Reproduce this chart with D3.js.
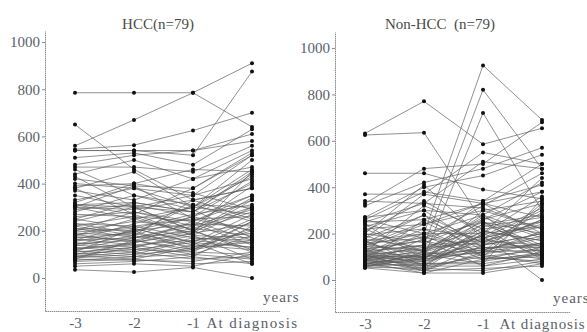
<!DOCTYPE html>
<html>
<head>
<meta charset="utf-8">
<script src="https://cdn.jsdelivr.net/npm/d3@7"></script>
<style>
  body { margin: 0; background: #fff; }
  svg { display: block; }
  text { font-family: "Liberation Serif", serif; white-space: pre; }
</style>
</head>
<body>
<div id="chart"></div>
<script>
// Time points (years before diagnosis) and their labels
const timePoints = [-3, -2, -1, 0];
const timeLabels = ["-3", "-2", "-1", "At diagnosis"];
const yTicks = [0, 200, 400, 600, 800, 1000];

// HCC group, one value per subject at each time point
const hccM3 = [785, 560, 545, 540, 650, 540, 510, 480, 470, 440, 420, 400, 390, 380, 370, 350, 330, 310, 310, 300,
  300, 290, 280, 270, 260, 250, 240, 230, 230, 220, 210, 210, 200, 195, 190, 185, 180, 175, 170, 165,
  160, 155, 150, 145, 140, 135, 130, 125, 120, 115, 110, 105, 100, 95, 90, 85, 80, 75, 70, 60,
  50, 35, 320, 310, 300, 250, 220, 200, 180, 160, 140, 120, 110, 100, 90, 80, 460, 430, 380];
const hccM2 = [785, 670, 563, 540, 460, 540, 530, 520, 470, 500, 390, 380, 400, 450, 330, 300, 380, 300, 320, 290,
  250, 310, 350, 260, 280, 210, 300, 220, 190, 260, 200, 170, 240, 210, 180, 150, 220, 160, 190, 140,
  170, 200, 130, 160, 120, 180, 110, 140, 150, 100, 130, 90, 120, 80, 110, 100, 75, 90, 80, 70,
  60, 25, 400, 270, 390, 320, 180, 280, 250, 230, 200, 170, 210, 150, 130, 160, 350, 300, 270];
const hccM1 = [785, 785, 625, 520, 330, 540, 480, 540, 450, 420, 380, 350, 460, 300, 420, 280, 300, 350, 280, 330,
  300, 260, 310, 240, 220, 270, 200, 250, 310, 180, 230, 200, 210, 150, 260, 190, 170, 210, 140, 160,
  230, 120, 180, 110, 150, 130, 170, 100, 200, 120, 90, 140, 110, 130, 80, 160, 70, 100, 60, 90,
  50, 45, 360, 380, 250, 280, 330, 240, 190, 300, 260, 220, 150, 240, 190, 120, 290, 200, 180];
const hccDx = [640, 910, 700, 875, 250, 610, 630, 580, 560, 540, 530, 520, 450, 500, 470, 440, 460, 420, 400, 380,
  430, 350, 300, 330, 390, 310, 280, 260, 240, 300, 220, 340, 180, 270, 200, 230, 160, 290, 250, 190,
  140, 210, 170, 240, 130, 200, 150, 180, 110, 160, 220, 120, 100, 150, 90, 130, 110, 80, 70, 60,
  100, 0, 290, 520, 200, 450, 380, 160, 330, 270, 410, 300, 60, 350, 450, 240, 170, 120, 80];

// Non-HCC group
const nonM3 = [632, 625, 150, 120, 100, 460, 370, 340, 330, 320, 270, 260, 250, 240, 230, 220, 210, 200, 195, 190,
  180, 175, 170, 165, 160, 155, 150, 145, 140, 135, 130, 125, 120, 118, 115, 112, 110, 108, 105, 102,
  100, 98, 95, 92, 90, 88, 85, 82, 80, 78, 75, 72, 70, 68, 65, 62, 60, 58, 55, 52,
  270, 260, 250, 240, 220, 200, 180, 170, 160, 140, 130, 120, 110, 100, 90, 80, 70, 60, 55];
const nonM2 = [770, 635, 200, 150, 100, 460, 370, 330, 480, 420, 400, 380, 260, 180, 300, 240, 340, 160, 220, 120,
  280, 140, 200, 90, 180, 110, 250, 130, 80, 170, 60, 150, 100, 220, 70, 130, 90, 190, 50, 140,
  80, 120, 60, 110, 40, 100, 70, 130, 50, 90, 30, 80, 60, 110, 40, 90, 70, 120, 50, 30,
  300, 200, 330, 90, 120, 410, 370, 60, 280, 240, 170, 320, 40, 200, 150, 260, 110, 180, 100];
const nonM1 = [585, 250, 925, 820, 720, 390, 550, 510, 500, 480, 450, 340, 330, 320, 280, 300, 200, 260, 180, 240,
  160, 220, 200, 300, 150, 190, 130, 270, 210, 110, 230, 170, 140, 100, 180, 250, 120, 90, 200, 160,
  130, 280, 100, 150, 120, 210, 80, 180, 110, 140, 90, 170, 60, 130, 50, 240, 70, 190, 40, 30,
  140, 120, 310, 260, 90, 180, 330, 200, 100, 330, 60, 220, 150, 280, 340, 160, 70, 250, 120];
const nonDx = [654, 150, 690, 480, 300, 350, 500, 480, 680, 570, 540, 500, 380, 460, 420, 340, 360, 330, 300, 280,
  260, 250, 230, 220, 200, 310, 190, 180, 170, 160, 270, 150, 140, 130, 240, 120, 210, 110, 100, 290,
  90, 190, 80, 200, 130, 170, 120, 250, 70, 150, 100, 230, 90, 180, 60, 140, 110, 0, 80, 70,
  110, 160, 220, 380, 140, 120, 200, 440, 320, 270, 120, 90, 260, 100, 410, 140, 350, 200, 330];

const width = 587;
const height = 332;

const svg = d3.select("#chart")
  .append("svg")
  .attr("width", width)
  .attr("height", height);

const panels = [
  { title: "HCC(n=79)", titleX: 158, left: 45, right: 280, top: 31, bottom: 311, y0: 278, y1000: 42,
    spacing: "1.4px", series: [hccM3, hccM2, hccM1, hccDx] },
  { title: "Non-HCC  (n=79)", titleX: 440, left: 335, right: 570, top: 32, bottom: 312, y0: 280, y1000: 48,
    spacing: "0.9px", series: [nonM3, nonM2, nonM1, nonDx] }
];

const axisColor = "#8a8a8a";
const labelColor = "#5a5f6a";
const fontSize = "15px";

panels.forEach(p => {
  // -3 sits 30px right of the y axis, each year is ~59px wide
  const x = d3.scaleLinear()
    .domain([-3 - 30 / 59, 0 + (p.right - p.left - 30 - 3 * 59) / 59])
    .range([p.left, p.right]);

  const pxPerUnit = (p.y0 - p.y1000) / 1000;
  const y = d3.scaleLinear()
    .domain([(p.y0 - p.bottom) / pxPerUnit, (p.y0 - p.top) / pxPerUnit])
    .range([p.bottom, p.top]);

  const g = svg.append("g");

  // subject trajectories
  const n = p.series[0].length;
  const rows = d3.range(n).map(i => timePoints.map((t, k) => ({ t: t, v: p.series[k][i] })));

  const line = d3.line()
    .x(d => x(d.t))
    .y(d => y(d.v));

  g.append("g")
    .selectAll("path")
    .data(rows)
    .join("path")
    .attr("d", line)
    .attr("fill", "none")
    .attr("stroke", "#5c5c5c")
    .attr("stroke-opacity", 0.85)
    .attr("stroke-width", 0.8);

  // dots at each time point
  g.append("g")
    .selectAll("circle")
    .data(rows.flat())
    .join("circle")
    .attr("cx", d => x(d.t))
    .attr("cy", d => y(d.v))
    .attr("r", 2)
    .attr("fill", "#111");

  // y axis
  const yAxis = g.append("g")
    .attr("transform", `translate(${p.left},0)`)
    .call(d3.axisLeft(y).tickValues(yTicks).tickFormat(d3.format("d"))
      .tickSize(3).tickPadding(2).tickSizeOuter(0));
  yAxis.select(".domain").attr("stroke", axisColor).attr("stroke-dasharray", "1.5,0.6");
  yAxis.selectAll(".tick line").attr("stroke", axisColor);
  yAxis.selectAll(".tick text")
    .attr("fill", labelColor)
    .attr("font-size", fontSize)
    .attr("font-family", "Liberation Serif, serif");

  // x axis
  const xAxis = g.append("g")
    .attr("transform", `translate(0,${p.bottom})`)
    .call(d3.axisBottom(x).tickValues(timePoints)
      .tickFormat((d, i) => timeLabels[i])
      .tickSize(0).tickPadding(6).tickSizeOuter(0));
  xAxis.select(".domain").attr("stroke", axisColor).attr("stroke-dasharray", "1.5,0.6");
  xAxis.selectAll(".tick text")
    .attr("fill", labelColor)
    .attr("font-size", fontSize)
    .attr("letter-spacing", (d, i) => i === 3 ? p.spacing : "0px")
    .attr("font-family", "Liberation Serif, serif");

  // "years" at the end of the x axis
  g.append("text")
    .attr("x", p.right - 17)
    .attr("y", p.bottom - 9)
    .attr("fill", labelColor)
    .attr("font-size", fontSize)
    .attr("letter-spacing", "1px")
    .text("years");

  // panel title
  g.append("text")
    .attr("x", p.titleX)
    .attr("y", 29)
    .attr("text-anchor", "middle")
    .attr("fill", "#4a4a4a")
    .attr("font-size", fontSize)
    .text(p.title);
});
</script>
</body>
</html>
